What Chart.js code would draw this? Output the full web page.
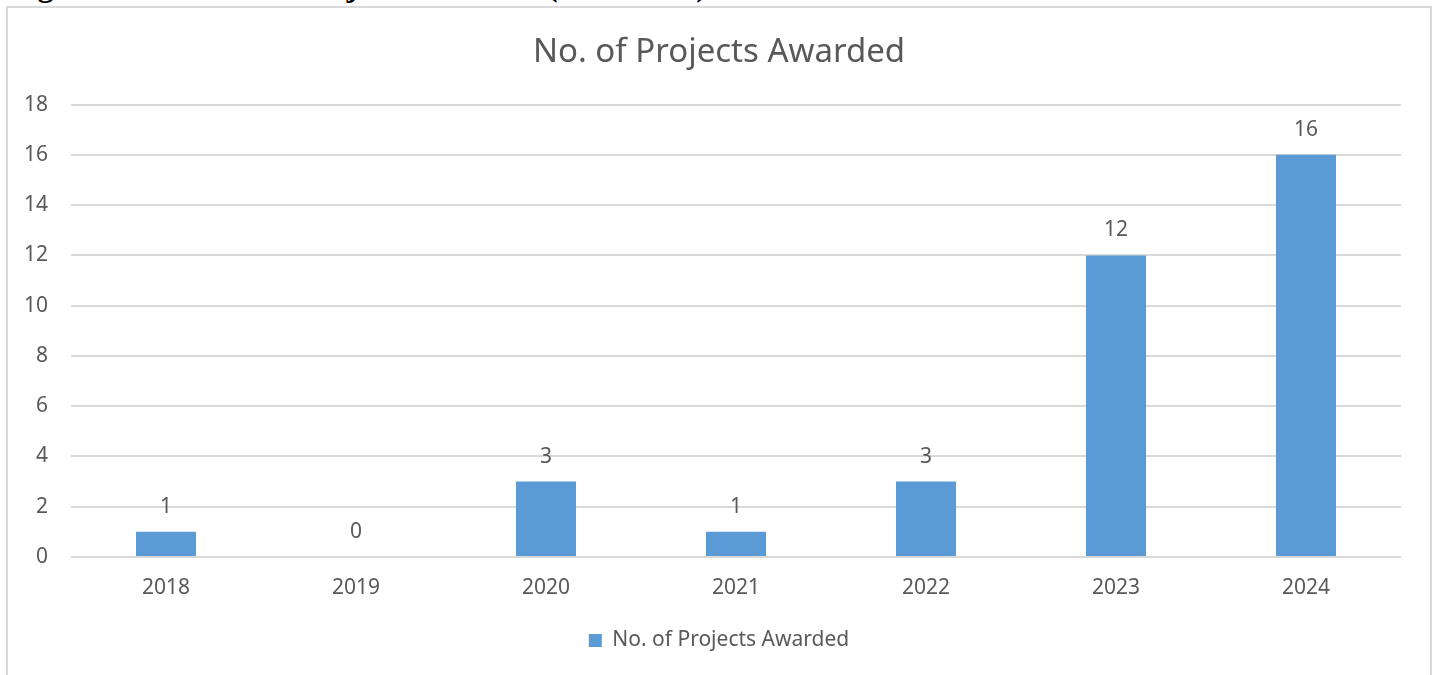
<!DOCTYPE html>
<html>
<head>
<meta charset="utf-8">
<script src="https://cdn.jsdelivr.net/npm/chart.js@4.4.1/dist/chart.umd.min.js"></script>
<style>
    body { margin:0; background:#fff; width:1439px; height:675px; overflow:hidden; position:relative; }
    #caption {
        position:absolute; left:9px; top:-31px; white-space:nowrap; line-height:32px;
        font-family:"Liberation Serif", serif; font-weight:bold; font-size:32px; color:#000;
    }
    #box {
        position:absolute; left:6px; top:6px; width:1422px; height:680px;
        border:2px solid #d9d9d9; background:#fff;
    }
    #chart { display:block; }
</style>
</head>
<body>
<div id="caption">Figure 4: Number of Projects Awarded (2018-2024)</div>
<div id="box"><canvas id="chart" width="1422" height="667"></canvas></div>
<script>
const years = ['2018', '2019', '2020', '2021', '2022', '2023', '2024'];
const projects = [1, 0, 3, 1, 3, 12, 16];
const yTicks = [0, 2, 4, 6, 8, 10, 12, 14, 16, 18];

const seriesName = 'No. of Projects Awarded';
const barBlue = '#5b9bd5';
const textGrey = '#595959';
const font = 'Noto Sans';

// value labels above each bar
const barLabels = {
    id: 'barLabels',
    afterDatasetsDraw(chart) {
        const ctx = chart.ctx;
        ctx.save();
        ctx.font = '21px "' + font + '"';
        ctx.fillStyle = textGrey;
        ctx.textAlign = 'center';
        ctx.textBaseline = 'middle';
        chart.getDatasetMeta(0).data.forEach((bar, i) => {
            ctx.fillText(projects[i], bar.x, bar.y - 25);
        });
        ctx.restore();
    }
};

new Chart(document.getElementById('chart'), {
    type: 'bar',
    data: {
        labels: years,
        datasets: [{
            label: seriesName,
            data: projects,
            backgroundColor: barBlue,
            categoryPercentage: 1,
            barPercentage: 0.316
        }]
    },
    options: {
        responsive: false,
        animation: false,
        layout: { padding: { left: 0, right: 0, top: 0, bottom: 14 } },
        plugins: {
            title: {
                display: true,
                text: seriesName,
                color: textGrey,
                font: { family: font, size: 33, weight: 'normal' },
                padding: { top: 25, bottom: 32 }
            },
            legend: {
                position: 'bottom',
                labels: {
                    color: textGrey,
                    font: { family: font, size: 21 },
                    boxWidth: 13,
                    boxHeight: 13,
                    padding: 10
                }
            },
            tooltip: { enabled: false }
        },
        scales: {
            x: {
                grid: { display: false, drawTicks: false },
                border: { display: false },
                ticks: { color: textGrey, font: { family: font, size: 21 }, padding: 18 },
                afterFit(s) { s.height = 63; }
            },
            y: {
                min: 0,
                max: 18,
                afterBuildTicks(s) { s.ticks = yTicks.map(v => ({ value: v })); },
                grid: { color: '#d9d9d9', lineWidth: 2, drawTicks: false },
                border: { display: false },
                ticks: { color: textGrey, font: { family: font, size: 21 }, padding: 23 },
                afterFit(s) { s.width = 63; }
            },
            // empty right axis keeps the right margin so title and legend stay centred on the canvas
            yRight: {
                position: 'right',
                grid: { display: false, drawTicks: false },
                border: { display: false },
                ticks: { display: false },
                afterFit(s) { s.width = 29; }
            }
        }
    },
    plugins: [barLabels]
});
</script>
</body>
</html>
